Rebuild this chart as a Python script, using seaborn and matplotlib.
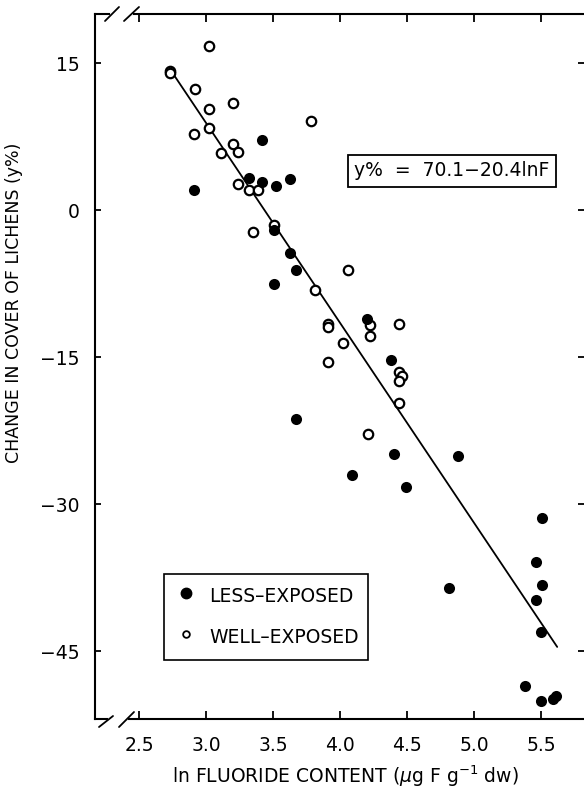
import matplotlib
matplotlib.use("Agg")
import matplotlib.pyplot as plt
from matplotlib.lines import Line2D
import seaborn as sns

# ---- data ----
less_x = [2.91, 3.32, 3.42, 3.42, 3.52, 3.63, 3.51, 3.63, 3.67, 3.51, 3.67,
          4.20, 4.38, 4.40, 4.09, 4.49, 4.88, 4.81, 5.51, 5.46, 5.51, 5.46,
          5.50, 5.38, 5.50, 5.59, 5.61]
less_y = [2.1, 3.3, 7.1, 2.9, 2.5, 3.2, -2.0, -4.35, -6.1, -7.55, -21.3,
          -11.1, -15.3, -24.9, -27.0, -28.2, -25.1, -38.5, -31.4, -35.9, -38.2, -39.8,
          -43.0, -48.5, -50.1, -49.9, -49.6]

well_x = [2.73, 2.73, 3.02, 2.92, 3.20, 3.02, 3.02, 2.91, 3.78, 3.20, 3.11,
          3.24, 3.24, 3.32, 3.39, 3.35, 3.51, 4.06, 3.81, 3.91, 3.91, 4.22,
          4.44, 4.22, 4.02, 3.91, 4.44, 4.46, 4.44, 4.44, 4.21]
well_y = [14.2, 13.95, 16.7, 12.4, 10.95, 10.3, 8.4, 7.76, 9.1, 6.7, 5.85,
          5.95, 2.65, 2.04, 2.04, -2.2, -1.5, -6.1, -8.1, -11.6, -11.9, -11.7,
          -11.6, -12.8, -13.6, -15.5, -16.5, -16.9, -17.4, -19.7, -22.8]

intercept, slope = 70.1, -20.4
line_x = [2.75, 5.62]
line_y = [intercept + slope * v for v in line_x]

x_ticks = [2.5, 3.0, 3.5, 4.0, 4.5, 5.0, 5.5]
y_ticks = [-45, -30, -15, 0, 15]

sns.set_style("ticks", rc={"axes.edgecolor": "black", "text.color": "black",
                           "xtick.color": "black", "ytick.color": "black",
                           "axes.labelcolor": "black"})
plt.rcParams["font.family"] = ["DejaVu Sans"]

W, H = 584, 795
fig = plt.figure(figsize=(W / 100, H / 100), dpi=100)
L, R, T, B = 95, 584, 14, 719
ax = fig.add_axes([L / W, 1 - B / H, (R - L) / W, (B - T) / H])

sns.lineplot(x=line_x, y=line_y, ax=ax, color="black", linewidth=1.3, zorder=2)
sns.scatterplot(x=well_x, y=well_y, ax=ax, marker="o", s=46, color="white",
                edgecolor="black", linewidth=1.6, zorder=3)
sns.scatterplot(x=less_x, y=less_y, ax=ax, marker="o", s=64, color="black",
                linewidth=0, zorder=4)

ax.set_xlim(2.172, 5.82)
ax.set_ylim(-51.9, 20.0)
ax.set_xticks(x_ticks)
ax.set_xticklabels([f"{v:.1f}" for v in x_ticks])
ax.set_yticks(y_ticks)
ax.set_yticklabels([f"{v}".replace("-", "\u2212") for v in y_ticks])
ax.tick_params(axis="x", direction="in", length=6, width=1.3, top=True,
               bottom=True, labelsize=13.5, pad=12)
ax.tick_params(axis="y", direction="in", length=4, width=1.3, left=True,
               right=True, labelsize=13.5, pad=11)
for s in ["left", "top", "bottom"]:
    ax.spines[s].set_linewidth(1.5)
ax.spines["right"].set_visible(False)
ax.set_xlabel("")
ax.set_ylabel("")

handles = [Line2D([], [], marker="o", ls="", color="black", ms=7.5,
                  label="LESS\u2013EXPOSED"),
           Line2D([], [], marker="o", ls="", mfc="white", mec="black",
                  mew=1.3, ms=4.8, label="WELL\u2013EXPOSED")]
leg = ax.legend(handles=handles, loc="lower left",
                bbox_to_anchor=(0.141, 0.0837, 0.417, 0.136), mode="expand",
                borderaxespad=0, fontsize=13.5, frameon=True, fancybox=False,
                edgecolor="black", framealpha=1, borderpad=0.5,
                handlelength=1.33, handletextpad=0.6, handleheight=1.8,
                labelspacing=0.78)
leg.get_frame().set_linewidth(1.2)

ax.text((452 - L) / (R - L), (B - 171) / (B - T),
        "y%  =  70.1\u221220.4lnF", transform=ax.transAxes, ha="center",
        va="center", fontsize=13.5,
        bbox=dict(boxstyle="square,pad=0.35", fc="white", ec="black", lw=1.3),
        zorder=5)

fig.text(14 / W, 1 - 303 / H, "CHANGE IN COVER OF LICHENS (y%)", rotation=90,
         ha="center", va="center", fontsize=12.5)
fig.text(345 / W, 1 - 776 / H, r"ln FLUORIDE CONTENT ($\mu$g F g$^{-1}$ dw)",
         ha="center", va="center", fontsize=13.5)


def fl(x0, y0, x1, y1, **kw):
    fig.add_artist(Line2D([x0 / W, x1 / W], [1 - y0 / H, 1 - y1 / H],
                          transform=fig.transFigure, **kw))


# axis break marks
fl(110, 719, 126, 719, color="white", lw=3, zorder=10)
fl(112, 14, 131, 14, color="white", lw=3, zorder=10)
fl(99, 727, 113, 716, color="black", lw=1.3, zorder=11)
fl(119, 727, 134, 712, color="black", lw=1.3, zorder=11)
fl(105, 21, 119, 7, color="black", lw=1.3, zorder=11)
fl(124, 21, 139, 7, color="black", lw=1.3, zorder=11)

fig.savefig("out.png", dpi=100)
